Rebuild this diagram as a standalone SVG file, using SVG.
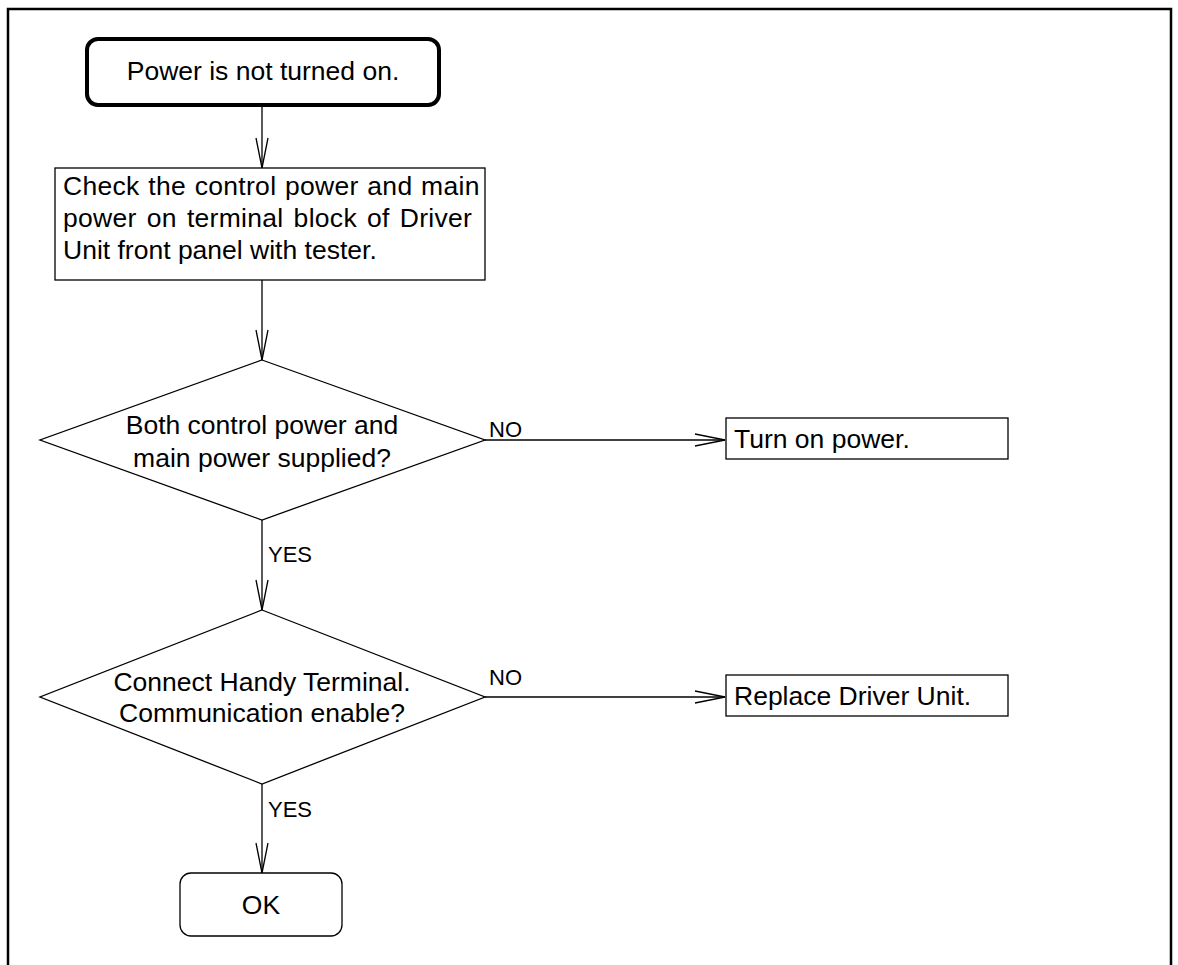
<svg xmlns="http://www.w3.org/2000/svg" width="1178" height="965" viewBox="0 0 1178 965">
<defs>
<style>
.t{font-family:"Liberation Sans",Arial,sans-serif;font-size:26.5px;fill:#000}
.l{font-family:"Liberation Sans",Arial,sans-serif;font-size:22px;fill:#000}
.s{fill:#fff;stroke:#000;stroke-width:1.3}
.c{fill:none;stroke:#000;stroke-width:1.3}
</style>
<marker id="arr" markerUnits="userSpaceOnUse" markerWidth="34" markerHeight="16" viewBox="-31 -8 34 16" refX="0" refY="0" orient="auto">
<path d="M-30,-6 L0,0 L-30,6" fill="none" stroke="#000" stroke-width="1.3"/>
</marker>
</defs>
<rect width="1178" height="965" fill="#fff"/>
<path d="M8,966 V9 H1171 V966" fill="none" stroke="#000" stroke-width="2.5"/>
<g id="connectors">
<path class="c" d="M262,105 V168" marker-end="url(#arr)"/>
<path class="c" d="M262,280 V360" marker-end="url(#arr)"/>
<path class="c" d="M485,440 H725" marker-end="url(#arr)"/>
<path class="c" d="M262,520 V610" marker-end="url(#arr)"/>
<path class="c" d="M485,697 H725" marker-end="url(#arr)"/>
<path class="c" d="M262,784 V873" marker-end="url(#arr)"/>
<text class="l" x="489" y="437">NO</text>
<text class="l" x="268" y="562">YES</text>
<text class="l" x="489" y="685">NO</text>
<text class="l" x="268" y="817">YES</text>
</g>
<g id="start">
<rect x="87" y="39" width="352" height="66" rx="11" fill="#fff" stroke="#000" stroke-width="4"/>
<text class="t" x="263" y="80" text-anchor="middle">Power is not turned on.</text>
</g>
<g id="check">
<rect class="s" x="55" y="168" width="430" height="112"/>
<text class="t" x="63" y="195" letter-spacing="0.3" word-spacing="1">Check the control power and main</text>
<text class="t" x="63" y="227" letter-spacing="0.3" word-spacing="2.4">power on terminal block of Driver</text>
<text class="t" x="63" y="259">Unit front panel with tester.</text>
</g>
<g id="decision1">
<polygon class="s" points="262,360 485,440 262,520 40,440"/>
<text class="t" x="262" y="434" text-anchor="middle">Both control power and</text>
<text class="t" x="262" y="467" text-anchor="middle">main power supplied?</text>
</g>
<g id="turnon">
<rect class="s" x="726" y="418" width="282" height="41"/>
<text class="t" x="734" y="448">Turn on power.</text>
</g>
<g id="decision2">
<polygon class="s" points="262,610 485,697 262,784 40,697"/>
<text class="t" x="262" y="691" text-anchor="middle">Connect Handy Terminal.</text>
<text class="t" x="262" y="722" text-anchor="middle">Communication enable?</text>
</g>
<g id="replace">
<rect class="s" x="726" y="675" width="282" height="41"/>
<text class="t" x="734" y="705">Replace Driver Unit.</text>
</g>
<g id="ok">
<rect class="s" x="180" y="873" width="162" height="63" rx="11"/>
<text class="t" x="261" y="914" text-anchor="middle">OK</text>
</g>
</svg>
